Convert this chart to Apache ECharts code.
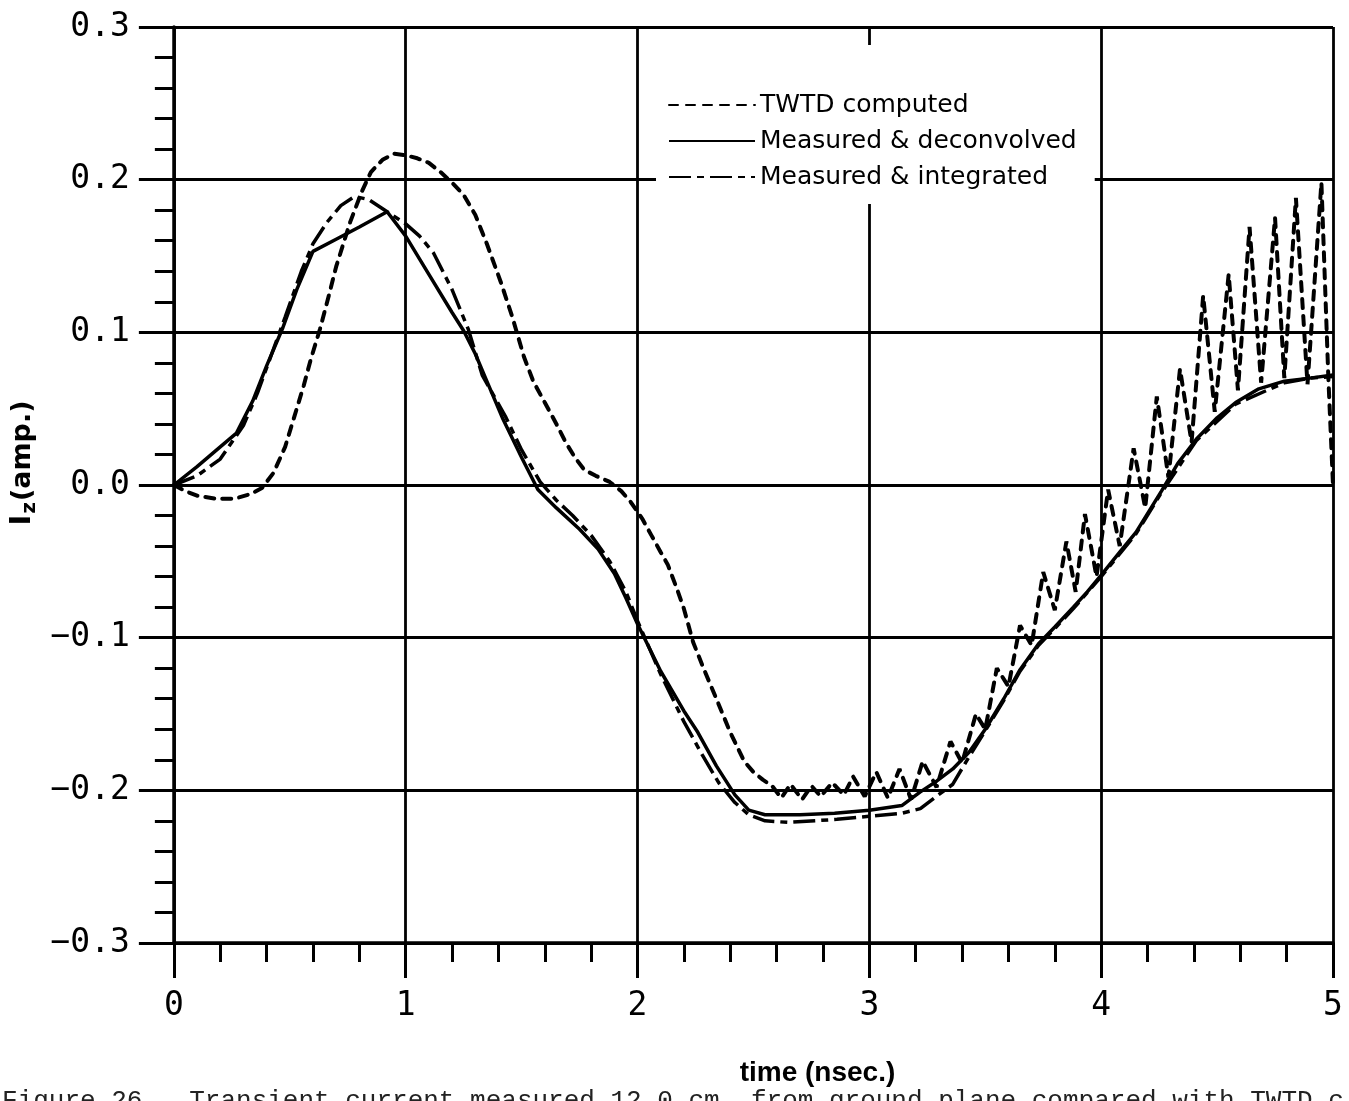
<!DOCTYPE html>
<html>
<head>
<meta charset="utf-8">
<script src="https://cdn.jsdelivr.net/npm/echarts@6/dist/echarts.min.js"></script>
<style>
  html, body { margin: 0; padding: 0; background: #fff; }
  #chart { width: 1349px; height: 1101px; }
</style>
</head>
<body>
<div id="chart"></div>
<script>
// Series labels as they appear in the key
const seriesNames = ['TWTD computed', 'Measured & deconvolved', 'Measured & integrated'];

// TWTD computed current: time (nsec.) and Iz (amp.)
const twtdTime = [0.00, 0.05, 0.10, 0.18, 0.26, 0.33, 0.38, 0.43, 0.48, 0.52, 0.56, 0.59, 0.63, 0.67, 0.70, 0.76, 0.81, 0.85, 0.90, 0.95,
  1.00, 1.05, 1.10, 1.15, 1.20, 1.25, 1.30, 1.35, 1.41, 1.46, 1.51, 1.55, 1.60, 1.65, 1.69, 1.73, 1.77, 1.82, 1.88, 1.93, 1.97,
  2.02, 2.06, 2.10, 2.13, 2.17, 2.20, 2.24, 2.29, 2.34, 2.40, 2.46, 2.50, 2.54, 2.58, 2.62, 2.66, 2.71, 2.75, 2.79, 2.84, 2.89, 2.93, 2.98,
  3.03, 3.08, 3.13, 3.18, 3.23, 3.29, 3.35, 3.40, 3.46, 3.50, 3.55, 3.60, 3.65, 3.70, 3.75, 3.80, 3.85, 3.89, 3.93, 3.98,
  4.03, 4.08, 4.14, 4.19, 4.24, 4.29, 4.34, 4.39, 4.44, 4.49, 4.55, 4.59, 4.64, 4.69, 4.75, 4.79, 4.84, 4.89, 4.95, 4.98, 5.00];
const twtdCurrent = [0.000, -0.004, -0.007, -0.009, -0.009, -0.006, -0.002, 0.008, 0.025, 0.045, 0.065, 0.082, 0.102, 0.125, 0.143, 0.172, 0.192, 0.205, 0.213, 0.217,
  0.216, 0.214, 0.211, 0.205, 0.198, 0.190, 0.177, 0.158, 0.133, 0.110, 0.084, 0.068, 0.054, 0.040, 0.028, 0.018, 0.010, 0.006, 0.002, -0.004, -0.011,
  -0.022, -0.033, -0.044, -0.052, -0.068, -0.081, -0.103, -0.122, -0.140, -0.162, -0.181, -0.188, -0.193, -0.197, -0.205, -0.196, -0.206, -0.197, -0.204, -0.195, -0.203, -0.191, -0.204,
  -0.188, -0.205, -0.186, -0.206, -0.181, -0.198, -0.168, -0.182, -0.150, -0.160, -0.120, -0.132, -0.092, -0.105, -0.057, -0.082, -0.037, -0.070, -0.019, -0.060,
  -0.003, -0.040, 0.024, -0.015, 0.058, 0.005, 0.076, 0.028, 0.124, 0.048, 0.138, 0.062, 0.169, 0.067, 0.175, 0.070, 0.188, 0.066, 0.198, 0.070, 0.000];

// Measured & deconvolved
const deconvTime = [0.00, 0.10, 0.20, 0.27, 0.34, 0.40, 0.47, 0.53, 0.60, 0.70, 0.80, 0.92, 1.00, 1.10, 1.20, 1.25, 1.30, 1.35, 1.42, 1.50,
  1.57, 1.65, 1.75, 1.83, 1.90, 1.95, 2.00, 2.10, 2.20, 2.26, 2.34, 2.42, 2.48, 2.55, 2.70, 2.85, 3.00, 3.14, 3.22, 3.29,
  3.36, 3.43, 3.50, 3.58, 3.65, 3.73, 3.80, 3.88, 3.94, 4.00, 4.08, 4.15, 4.26, 4.33, 4.41, 4.50, 4.58, 4.68, 4.79, 4.90, 5.00];
const deconvCurrent = [0.000, 0.012, 0.025, 0.034, 0.055, 0.078, 0.103, 0.128, 0.153, 0.161, 0.169, 0.179, 0.163, 0.138, 0.113, 0.101, 0.086, 0.068, 0.043, 0.018,
  -0.003, -0.015, -0.029, -0.042, -0.058, -0.074, -0.091, -0.122, -0.148, -0.162, -0.184, -0.203, -0.213, -0.216, -0.216, -0.215, -0.213, -0.210, -0.201, -0.194,
  -0.186, -0.175, -0.160, -0.140, -0.121, -0.104, -0.093, -0.080, -0.070, -0.059, -0.044, -0.031, -0.004, 0.014, 0.030, 0.044, 0.054, 0.063, 0.068, 0.070, 0.072];

// Measured & integrated
const integTime = [0.00, 0.10, 0.20, 0.30, 0.36, 0.42, 0.48, 0.55, 0.60, 0.66, 0.72, 0.78, 0.84, 0.92, 1.00, 1.06, 1.12, 1.20, 1.27, 1.33,
  1.43, 1.50, 1.58, 1.65, 1.72, 1.80, 1.88, 1.95, 2.00, 2.10, 2.20, 2.28, 2.35, 2.42, 2.48, 2.55, 2.65, 2.86, 3.00, 3.14,
  3.22, 3.28, 3.36, 3.43, 3.50, 3.58, 3.65, 3.73, 3.80, 3.88, 4.00, 4.15, 4.26, 4.41, 4.58, 4.79, 4.90, 5.00];
const integCurrent = [0.000, 0.006, 0.017, 0.039, 0.060, 0.085, 0.110, 0.140, 0.158, 0.172, 0.183, 0.189, 0.187, 0.179, 0.171, 0.163, 0.152, 0.128, 0.102, 0.072,
  0.045, 0.023, 0.002, -0.010, -0.020, -0.033, -0.050, -0.070, -0.089, -0.124, -0.155, -0.177, -0.195, -0.208, -0.216, -0.220, -0.221, -0.219, -0.217, -0.215,
  -0.212, -0.205, -0.196, -0.178, -0.161, -0.141, -0.122, -0.105, -0.094, -0.081, -0.060, -0.032, -0.005, 0.029, 0.053, 0.067, 0.070, 0.071];

const captionText = 'Figure 26.  Transient current measured 12.0 cm. from ground plane compared with TWTD c';

function pairs(ts, vs) { return ts.map((t, i) => [t, vs[i]]); }

const chart = echarts.init(document.getElementById('chart'), null, { renderer: 'canvas' });

const ink = '#000';

const option = {
  backgroundColor: '#fff',
  animation: false,
  color: [ink, ink, ink],
  grid: { left: 168, right: 16, top: 27, bottom: 158, containLabel: false },
  legend: {
    orient: 'vertical',
    left: 656,
    top: 45,
    padding: [47, 18, 14, 12],
    backgroundColor: '#fff',
    itemWidth: 86,
    itemHeight: 14,
    itemGap: 10,
    selectedMode: false,
    itemStyle: { opacity: 0 },
    data: seriesNames,
    textStyle: { fontFamily: 'DejaVu Sans', fontSize: 25, color: ink, lineHeight: 26 }
  },
  xAxis: {
    type: 'value',
    min: 0, max: 5, interval: 1,
    axisLine: { show: true, onZero: false, lineStyle: { color: ink, width: 3.5 } },
    axisTick: { show: true, length: 35, lineStyle: { color: ink, width: 3 } },
    minorTick: { show: true, splitNumber: 5, length: 19, lineStyle: { color: ink, width: 3 } },
    splitLine: { show: true, lineStyle: { color: ink, width: 2.8 } },
    axisLabel: { margin: 47, fontFamily: 'DejaVu Sans Mono', fontSize: 33, color: ink },
    name: 'time (nsec.)',
    nameLocation: 'middle',
    nameGap: 116,
    nameTextStyle: { fontFamily: 'Liberation Sans', fontWeight: 'bold', fontSize: 28, color: ink, padding: [0, 0, 0, 128] }
  },
  yAxis: {
    type: 'value',
    min: -0.3, max: 0.3, interval: 0.1,
    axisLine: { show: true, onZero: false, lineStyle: { color: ink, width: 3.5 } },
    axisTick: { show: true, length: 35, lineStyle: { color: ink, width: 3 } },
    minorTick: { show: true, splitNumber: 5, length: 19, lineStyle: { color: ink, width: 3 } },
    splitLine: { show: true, lineStyle: { color: ink, width: 2.8 } },
    axisLabel: {
      margin: 44, fontFamily: 'DejaVu Sans Mono', fontSize: 33, color: ink,
      formatter: v => (Math.abs(v) < 1e-9 ? 0 : v).toFixed(1).replace('-', '\u2212')
    },
    name: '{i|I}{z|z}{a|(amp.)}',
    nameLocation: 'middle',
    nameGap: 118,
    nameTextStyle: {
      color: ink,
      padding: [0, 0, 0, 44],
      rich: {
        i: { fontFamily: 'DejaVu Sans', fontWeight: 'bold', fontSize: 29, color: ink },
        z: { fontFamily: 'DejaVu Sans', fontWeight: 'bold', fontSize: 20, color: ink, padding: [14, 1, 0, 1] },
        a: { fontFamily: 'DejaVu Sans', fontWeight: 'bold', fontSize: 27, color: ink }
      }
    }
  },
  series: [
    {
      name: seriesNames[0], type: 'line', symbol: 'none', showSymbol: false,
      data: pairs(twtdTime, twtdCurrent),
      itemStyle: { color: ink },
      lineStyle: { color: ink, width: 4, type: [9, 8], cap: 'round' }, z: 3
    },
    {
      name: seriesNames[1], type: 'line', symbol: 'none', showSymbol: false,
      data: pairs(deconvTime, deconvCurrent),
      itemStyle: { color: ink },
      lineStyle: { color: ink, width: 3.5, type: 'solid' }, z: 4
    },
    {
      name: seriesNames[2], type: 'line', symbol: 'none', showSymbol: false,
      data: pairs(integTime, integCurrent),
      itemStyle: { color: ink },
      lineStyle: { color: ink, width: 3.5, type: [22, 6, 7, 6] }, z: 3
    }
  ],
  graphic: [
    {
      type: 'text', left: 2, top: 1088, silent: true,
      style: { text: captionText, fontFamily: 'Liberation Mono', fontSize: 26, fill: '#222' }
    }
  ]
};

chart.setOption(option);
</script>
</body>
</html>
